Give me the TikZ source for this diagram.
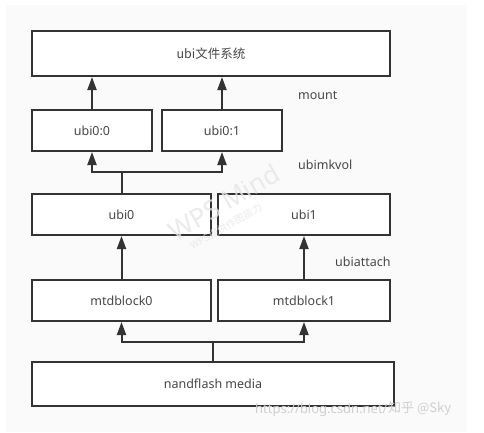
\documentclass[tikz,border=0pt]{standalone}
\usepackage{fontspec}
\setmainfont{Noto Sans}
\newfontfamily\cjk{Noto Sans CJK SC}
\usetikzlibrary{arrows.meta}
\definecolor{bgc}{HTML}{FAFAFA}
\definecolor{ink}{HTML}{333333}
\definecolor{wm}{HTML}{E6E6E6}
\definecolor{wm2}{HTML}{CFCFCF}
\begin{document}
\begin{tikzpicture}[x=1bp,y=-1bp,
  box/.style={draw=ink,line width=2bp,fill=white,inner sep=0pt,font=\fontsize{12.5bp}{14bp}\selectfont,text=ink!90},
  conn/.style={draw=ink,line width=2bp},
  arr/.style={conn,-{Triangle[width=9bp,length=13bp]}},
  lbl/.style={anchor=west,inner sep=0pt,font=\fontsize{12.5bp}{14bp}\selectfont,text=ink!90}]
\useasboundingbox (0,0) rectangle (484,432);
\fill[white] (0,0) rectangle (484,432);
\fill[bgc] (6,5) rectangle (467,432);
% boxes
\node[box,minimum width=358bp,minimum height=45bp] (top) at (211,53.5) {\cjk ubi文件系统};
\node[box,minimum width=120bp,minimum height=41bp] (u00) at (92,130.5) {ubi0:0};
\node[box,minimum width=120bp,minimum height=41bp] (u01) at (222,130.5) {ubi0:1};
\node[box,minimum width=179bp,minimum height=41bp] (ubi0) at (121.5,214.5) {ubi0};
\node[box,minimum width=172bp,minimum height=41bp] (ubi1) at (304,214.5) {ubi1};
\node[box,minimum width=179bp,minimum height=41bp] (mtd0) at (121.5,300.5) {mtdblock0};
\node[box,minimum width=172bp,minimum height=41bp] (mtd1) at (304,300.5) {mtdblock1};
\node[box,minimum width=362bp,minimum height=44bp] (nand) at (213,384) {nandflash media};
% labels
\node[lbl] (lmount) at (298,95) {mount};
\node[lbl] (lmk) at (298,165) {ubimkvol};
\node[lbl] (lat) at (335,262) {ubiattach};
% connectors
\draw[arr] (u00.north) -- (u00.north |- top.south);
\draw[arr] (u01.north) -- (u01.north |- top.south);
\coordinate (j1) at (ubi0.north |- 0,172);
\draw[conn] (ubi0.north) -- (j1);
\draw[arr] (j1) -| (u00.south);
\draw[arr] (j1) -| (u01.south);
\draw[arr] (mtd0.north) -- (ubi0.south);
\draw[arr] (mtd1.north) -- (ubi1.south);
\coordinate (j2) at (nand.north |- 0,342);
\draw[conn] (nand.north) -- (j2);
\draw[arr] (j2) -| (mtd0.south);
\draw[arr] (j2) -| (mtd1.south);
% watermark WPS Mind (drawn over)
\node[rotate=30,text=wm,text opacity=0.8,font=\fontsize{26bp}{28bp}\selectfont,inner sep=0pt] (wps) at (224,202) {WPS Mind};
\node[rotate=30,text=wm,text opacity=0.8,font=\cjk\fontsize{10bp}{12bp}\selectfont,inner sep=0pt] (wps2) at (226,226) {WPS提供作图能力};
% bottom watermark
\node[anchor=west,inner sep=0pt,text=wm2,font=\fontsize{13bp}{14bp}\selectfont] (csdn) at (255,410) {https://blog.csdn.net/};
\node[anchor=west,inner sep=0pt,text=wm2,font=\cjk\fontsize{13bp}{14bp}\selectfont] (zh) at (388,409) {知乎 @Sky};
\end{tikzpicture}
\end{document}
